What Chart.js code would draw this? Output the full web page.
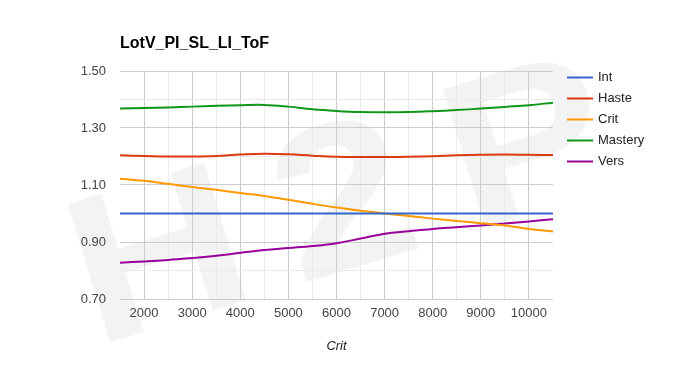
<!DOCTYPE html>
<html>
<head>
<meta charset="utf-8">
<script src="https://cdn.jsdelivr.net/npm/chart.js@4/dist/chart.umd.min.js"></script>
<style>
html,body{margin:0;padding:0;background:#fff;}
canvas{display:block;}
</style>
</head>
<body>
<canvas id="c" width="684" height="371"></canvas>
<script>
const chartTitle = 'LotV_PI_SL_LI_ToF';
const xAxisTitle = 'Crit';
const critValues = [1500,2000,2500,3000,3500,4000,4500,5000,5500,6000,6500,7000,7500,8000,8500,9000,9500,10000,10500];
const intValues     = [1.000,1.000,1.000,1.000,1.000,1.000,1.000,1.000,1.000,1.000,1.000,1.000,1.000,1.000,1.000,1.000,1.000,1.000,1.000];
const hasteValues   = [1.204,1.202,1.200,1.200,1.202,1.207,1.210,1.208,1.203,1.199,1.198,1.198,1.199,1.201,1.204,1.206,1.207,1.206,1.205];
const critSeries    = [1.122,1.115,1.104,1.093,1.083,1.072,1.061,1.048,1.034,1.021,1.010,1.000,0.991,0.982,0.974,0.966,0.958,0.946,0.937];
const masteryValues = [1.368,1.370,1.372,1.375,1.378,1.380,1.381,1.375,1.366,1.360,1.356,1.355,1.356,1.359,1.363,1.368,1.374,1.380,1.389];
const versValues    = [0.827,0.832,0.837,0.844,0.852,0.862,0.872,0.879,0.886,0.896,0.912,0.929,0.938,0.946,0.952,0.958,0.965,0.972,0.980];
const seriesNames = ['Int','Haste','Crit','Mastery','Vers'];
const seriesColors = ['#3366cc','#dc3912','#ff9900','#109618','#990099'];
const yTickValues = [0.7,0.8,0.9,1.0,1.1,1.2,1.3,1.4,1.5];
const yTickLabels = ['0.70','','0.90','','1.10','','1.30','','1.50'];
const xTickValues = [1500,2000,2500,3000,3500,4000,4500,5000,5500,6000,6500,7000,7500,8000,8500,9000,9500,10000,10500];
const xTickLabels = ['','2000','','3000','','4000','','5000','','6000','','7000','','8000','','9000','','10000',''];
const watermarkText = ['H','2','P'];

const FONT = '"Liberation Sans", Arial, sans-serif';
const allSeries = [intValues, hasteValues, critSeries, masteryValues, versValues];

const datasets = allSeries.map((vals, i) => ({
  label: seriesNames[i],
  data: critValues.map((x, j) => ({x: x, y: vals[j]})),
  borderColor: seriesColors[i],
  backgroundColor: seriesColors[i],
  borderWidth: 2,
  pointRadius: 0,
  tension: 0.4,
  fill: false
}));

const decor = {
  id: 'decor',
  beforeDraw(chart) {
    const ctx = chart.ctx;
    ctx.save();
    ctx.fillStyle = '#ffffff';
    ctx.fillRect(0, 0, chart.width, chart.height);
    // watermark
    ctx.translate(111.7, 341.7);
    ctx.rotate(-17 * Math.PI / 180);
    ctx.scale(1.15, 1);
    ctx.fillStyle = '#f3f3f3';
    ctx.font = 'bold 210px ' + FONT;
    ctx.textBaseline = 'alphabetic';
    const offs = [-15.3, 170.4, 325.7];
    watermarkText.forEach((t, i) => ctx.fillText(t, offs[i], 0));
    ctx.restore();
  },
  afterDraw(chart) {
    const ctx = chart.ctx;
    ctx.save();
    // title
    ctx.fillStyle = '#000000';
    ctx.font = 'bold 16px ' + FONT;
    ctx.textBaseline = 'alphabetic';
    ctx.textAlign = 'left';
    ctx.fillText(chartTitle, 120, 48);
    // axis title
    ctx.fillStyle = '#222222';
    ctx.font = 'italic 13px ' + FONT;
    ctx.textAlign = 'center';
    ctx.textBaseline = 'middle';
    const ca = chart.chartArea;
    ctx.fillText(xAxisTitle, (ca.left + ca.right) / 2, 346);
    // legend
    ctx.font = '13px ' + FONT;
    ctx.textAlign = 'left';
    chart.data.datasets.forEach((ds, i) => {
      const y = 77.5 + 21 * i;
      ctx.strokeStyle = ds.borderColor;
      ctx.lineWidth = 2;
      ctx.beginPath();
      ctx.moveTo(567, y);
      ctx.lineTo(593, y);
      ctx.stroke();
      ctx.fillStyle = '#222222';
      ctx.fillText(ds.label, 598, y);
    });
    ctx.restore();
  }
};

new Chart(document.getElementById('c'), {
  type: 'line',
  data: { datasets: datasets },
  plugins: [decor],
  options: {
    responsive: false,
    animation: false,
    devicePixelRatio: 1,
    layout: { padding: { left: 0, right: 131, top: 71, bottom: 0 } },
    plugins: { legend: { display: false }, title: { display: false }, tooltip: { enabled: false } },
    scales: {
      x: {
        type: 'linear',
        min: 1500, max: 10500,
        afterFit(s) { s.height = 72; },
        afterBuildTicks(s) { s.ticks = xTickValues.map(v => ({value: v})); },
        border: { display: false },
        grid: {
          drawTicks: false,
          color(c) {
            const v = c.tick ? c.tick.value : null;
            if (v === 1500 || v === 10500) return 'rgba(0,0,0,0)';
            return (v % 1000 === 0) ? '#cccccc' : '#ebebeb';
          }
        },
        ticks: {
          autoSkip: false, maxRotation: 0, padding: 7,
          color: '#444444',
          font: { family: FONT, size: 13 },
          callback(v, i) { return xTickLabels[xTickValues.indexOf(v)] || ''; }
        }
      },
      y: {
        min: 0.7, max: 1.5,
        afterFit(s) { s.width = 120; },
        afterBuildTicks(s) { s.ticks = yTickValues.map(v => ({value: v})); },
        border: { display: false },
        grid: {
          drawTicks: false,
          color(c) {
            const i = c.index;
            return (i % 2 === 0) ? '#cccccc' : '#ebebeb';
          }
        },
        ticks: {
          padding: 14,
          color: '#444444',
          font: { family: FONT, size: 13 },
          callback(v, i) { return yTickLabels[i]; }
        }
      }
    }
  }
});
</script>
</body>
</html>
